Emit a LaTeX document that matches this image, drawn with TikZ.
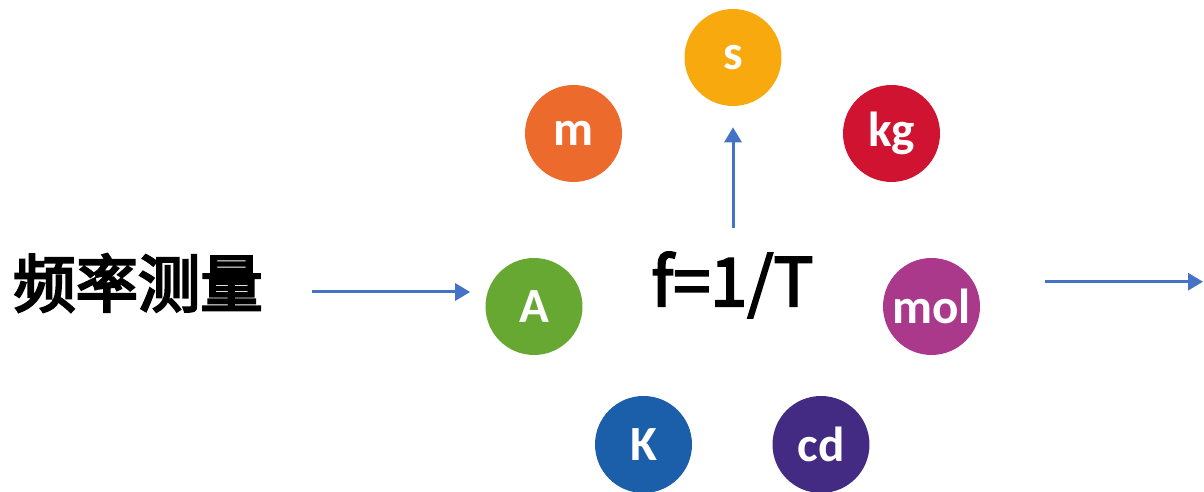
\documentclass[tikz,border=0pt]{standalone}
\usepackage{fontspec}
\setmainfont{Carlito}
\newfontfamily\cjkhead{Noto Sans CJK SC}[FakeBold=4]
\newfontfamily\cjkmed{Noto Sans CJK SC}[FakeBold=3]
\usepackage{tikz}
\usetikzlibrary{arrows.meta,positioning,calc}
\definecolor{unitorange}{HTML}{EC6A2C}
\definecolor{unityellow}{HTML}{F7A90E}
\definecolor{unitred}{HTML}{D01330}
\definecolor{unitgreen}{HTML}{66A832}
\definecolor{unitpurple}{HTML}{AA398C}
\definecolor{unitblue}{HTML}{1B5EA9}
\definecolor{unitviolet}{HTML}{432A82}
\definecolor{arrowblue}{HTML}{4472C4}

\begin{document}
\begin{tikzpicture}[
    x=0.02cm, y=-0.02cm,
    unit/.style={circle, minimum size=1.94cm, inner sep=0pt, text=white,
        font=\fontsize{28}{28}\selectfont\bfseries},
    arr/.style={-{Triangle[length=0.3cm, width=0.34cm]}, line width=0.06cm, arrowblue}
]
    \useasboundingbox (0,0) rectangle (1204,492);

    \node[unit, fill=unityellow] (s) at (733,57.5) {s};
    \node[unit, fill=unitorange] (m) at (573.5,133.5) {m};
    \node[unit, fill=unitred] (kg) at (891.5,133.5) {kg};
    \node[unit, fill=unitgreen] (A) at (534,306.5) {A};
    \node[unit, fill=unitpurple] (mol) at (931.5,306.5) {mol};
    \node[unit, fill=unitblue] (K) at (643.5,444.5) {K};
    \node[unit, fill=unitviolet] (cd) at (821,444.5) {cd};

    \node[font=\cjkhead\fontsize{35.5}{35.5}\selectfont, inner sep=0pt] (freq) at (138,283) {频率测量};
    \node[font=\cjkmed\fontsize{38}{38}\selectfont, inner sep=0pt] (formula) at (732.5,285) {f=1/T};

    \coordinate (inarr) at (312,292);
    \coordinate (uparr) at (733,228);
    \coordinate (outarr) at (1045,281.7);
    \coordinate (outend) at (1203,281.7);

    \draw[arr] (inarr) -- (inarr -| A.west) [shorten >=0.3cm];
    \draw[arr, shorten >=0.42cm] (uparr) -- (s.south);
    \draw[arr] (outarr) -- (outend);
\end{tikzpicture}
\end{document}
